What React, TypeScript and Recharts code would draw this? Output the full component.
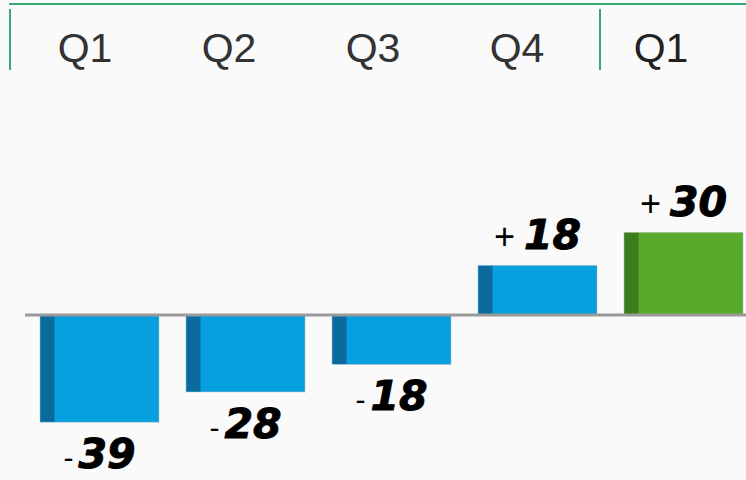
import React from 'react';
import { BarChart, Bar, XAxis, YAxis, ReferenceLine, LabelList } from 'recharts';

// values
const quarters = ['Q1', 'Q2', 'Q3', 'Q4', 'Q1'];
const changes = [-39, -28, -18, 18, 30];
const yDomain: [number, number] = [-60, 113];

const data = quarters.map((quarter, i) => ({ quarter, change: changes[i], key: `${quarter}-${i}` }));

const GREEN_LINE = '#3aa876';
const BLUE = '#069fe0';
const BLUE_DARK = '#0a6b9c';
const GREEN = '#58aa2b';
const GREEN_DARK = '#3f7c20';
const FONT = '"Liberation Sans", Arial, sans-serif';
const NUM_FONT = '"DejaVu Sans", "Liberation Sans", sans-serif';

const BarShape = (props: any) => {
  const { x, y, width, height, index } = props;
  const top = height < 0 ? y + height : y;
  const h = Math.abs(height);
  const last = index === data.length - 1;
  return (
    <g>
      <rect x={x} y={top} width={width} height={h} fill={last ? GREEN : BLUE} stroke="#b8b8b8" strokeWidth={1} strokeDasharray="1 1" />
      <rect x={x + 0.5} y={top + 0.5} width={14} height={Math.max(h - 1, 0)} fill={last ? GREEN_DARK : BLUE_DARK} />
    </g>
  );
};

const ValueLabel = (props: any) => {
  const { x, y, width, height, value } = props;
  const top = Math.min(y, y + height);
  const bottom = Math.max(y, y + height);
  const cx = x + width / 2;
  const neg = value < 0;
  const ty = neg ? bottom + 46 : top - 16;
  return (
    <text x={cx} y={ty} textAnchor="middle" fill="#000">
      <tspan fontFamily={FONT} fontSize={neg ? 30 : 36} fontWeight={400}>{neg ? '-' : '+'}</tspan>
      <tspan dx={neg ? 5 : 9} fontFamily={NUM_FONT} fontSize={41} fontWeight={700} fontStyle="italic" stroke="#000" strokeWidth={1}>
        {Math.abs(value)}
      </tspan>
    </text>
  );
};

const QuarterTick = (props: any) => {
  const { x, index } = props;
  const last = index === quarters.length - 1;
  return (
    <g>
      {index === 0 && <line x1={x - 75} x2={x - 75} y1={9} y2={70} stroke={GREEN_LINE} strokeWidth={2} />}
      {last && <line x1={x - 61} x2={x - 61} y1={9} y2={70} stroke={GREEN_LINE} strokeWidth={2} />}
      <text x={x} y={62} textAnchor="middle" fontFamily={FONT} fontSize={41} fill={last ? '#222' : '#333'}>
        {quarters[index]}
      </text>
    </g>
  );
};

const BaseLine = (props: any) => {
  const { x1, x2, y1 } = props;
  return <line x1={x1 + 16} x2={x2} y1={y1} y2={y1} stroke="#9a9a9a" strokeWidth={3} />;
};

export default function App() {
  return (
    <div style={{ position: 'fixed', left: 0, top: 0, width: 746, height: 480, background: '#fafafa' }}>
      <BarChart width={746} height={480} data={data} margin={{ top: 3, right: -10, left: 9, bottom: 0 }} barSize={119}>
        <XAxis xAxisId="bars" dataKey="key" hide padding={{ left: 17, right: 0 }} />
        <XAxis
          xAxisId="labels"
          dataKey="key"
          orientation="top"
          height={1}
          axisLine={false}
          tickLine={false}
          interval={0}
          padding={{ left: 4, right: 23 }}
          tick={<QuarterTick />}
        />
        <YAxis hide domain={yDomain} allowDataOverflow />
        <ReferenceLine xAxisId="bars" y={yDomain[1]} stroke={GREEN_LINE} strokeWidth={2} />
        <Bar xAxisId="bars" dataKey="change" shape={<BarShape />} isAnimationActive={false}>
          <LabelList dataKey="change" content={<ValueLabel />} />
        </Bar>
        <ReferenceLine xAxisId="bars" y={0} shape={<BaseLine />} />
      </BarChart>
    </div>
  );
}
